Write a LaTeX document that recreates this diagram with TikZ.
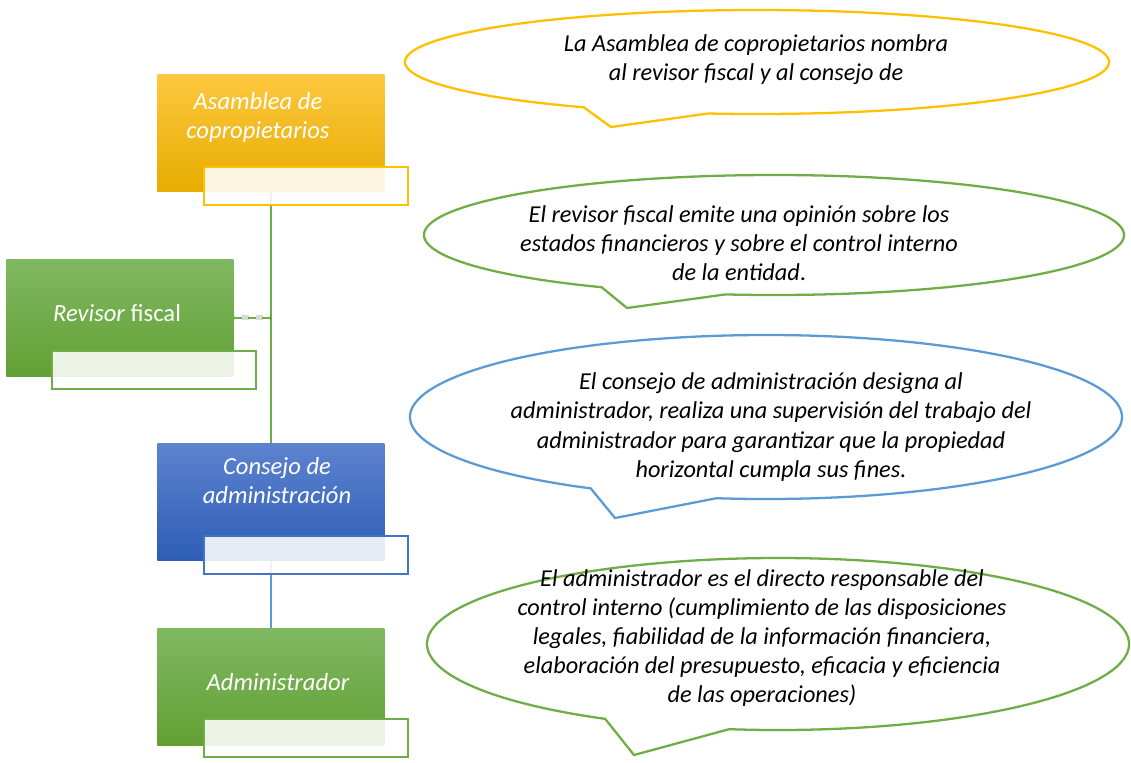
\documentclass[tikz,border=0pt]{standalone}
\usepackage{fontspec}
\setmainfont{Carlito}
\definecolor{amarillo}{RGB}{255,192,0}
\definecolor{verde}{RGB}{112,173,71}
\definecolor{azul}{RGB}{91,155,213}
\definecolor{azulcaja}{RGB}{68,114,196}
%% globo: color, centro x, centro y, radio x, radio y, punta
\newcommand{\globo}[6]{%
  \draw[globo, draw=#1] (#2,#3) ++(119.5:#4 and #5)
    arc[start angle=119.5, end angle=458, x radius=#4, y radius=#5] -- #6 -- cycle;}
\begin{document}
\begin{tikzpicture}[x=0.02cm, y=-0.02cm,
    caja/.style={rectangle, anchor=north west, inner sep=0pt, minimum width=4.54cm, minimum height=2.34cm},
    nota/.style={rectangle, anchor=north west, inner sep=0pt, minimum width=4.08cm, minimum height=0.76cm, fill=white, fill opacity=.88, line width=1pt},
    etiqueta/.style={text=white, align=center, font=\fontsize{14}{16.5}\selectfont\itshape},
    texto/.style={align=center, font=\fontsize{13.8}{16.6}\selectfont\itshape},
    globo/.style={line width=1.3pt, line join=miter}]
  \useasboundingbox (0,0) rectangle (1131,762);

  %% Las cajas del organigrama, con su degradado
  \node[caja, top color={rgb,255:red,253;green,200;blue,64}, middle color=amarillo, bottom color={rgb,255:red,230;green,172;blue,0}] (asamblea) at (157,74) {};
  \node[caja, top color={rgb,255:red,128;green,184;blue,98}, bottom color={rgb,255:red,98;green,160;blue,52}] (revisor) at (6,259) {};
  \node[caja, top color={rgb,255:red,93;green,131;blue,207}, bottom color={rgb,255:red,45;green,93;blue,181}] (consejo) at (157,443) {};
  \node[caja, top color={rgb,255:red,128;green,184;blue,98}, bottom color={rgb,255:red,98;green,160;blue,52}] (admin) at (157,628) {};

  %% Los textos de las cajas
  \node[etiqueta] (asambleaTexto) at (258,117) {Asamblea de\\copropietarios};
  \node[etiqueta, font=\fontsize{14}{16.5}\selectfont] (revisorTexto) at (117,313) {\textit{Revisor} fiscal};
  \node[etiqueta] (consejoTexto) at (277,481) {Consejo de\\administración};
  \node[etiqueta] (adminTexto) at (278,682) {Administrador};

  %% Las lineas que unen las cajas
  \draw[verde, line width=0.8pt] (asamblea.south) -- (consejo.north);
  \draw[black, opacity=.15, line width=3pt, dash pattern=on 4pt off 4pt, dash phase=-4.5pt, yshift=-2pt] (revisor.east) -- (revisor.east -| asamblea.south);
  \draw[verde, line width=1pt, dash pattern=on 4.5pt off 3.5pt] (revisor.east) -- (revisor.east -| asamblea.south);
  \draw[azul, line width=0.8pt] (consejo.south) -- (admin.north);

  %% Los recuadros claros encima de cada caja
  \node[nota, draw=amarillo] (asambleaNota) at (203,166) {};
  \node[nota, draw=verde] (revisorNota) at (51,350) {};
  \node[nota, draw=azulcaja] (consejoNota) at (203,535) {};
  \node[nota, draw=verde] (adminNota) at (203,718) {};

  %% Los globos de la derecha
  \globo{amarillo}{757}{62}{352}{52}{(611,127)}
  \globo{verde}{774}{235}{350}{60}{(627,308)}
  \globo{azul}{766}{417}{356}{82}{(615,518)}
  \globo{verde}{778}{644}{351}{86}{(634,755)}

  \node[texto] (globoAsamblea) at (756,60) {La Asamblea de copropietarios nombra\\al revisor fiscal y al consejo de};
  \node[texto] (globoRevisor) at (739,243) {El revisor fiscal emite una opinión sobre los\\estados financieros y sobre el control interno\\de la entidad\textup{.}};
  \node[texto] (globoConsejo) at (771,427) {El consejo de administración designa al\\administrador, realiza una supervisión del trabajo del\\administrador para garantizar que la propiedad\\horizontal cumpla sus fines.};
  \node[texto] (globoAdmin) at (762,638) {El administrador es el directo responsable del\\control interno (cumplimiento de las disposiciones\\legales, fiabilidad de la información financiera,\\elaboración del presupuesto, eficacia y eficiencia\\de las operaciones)};
\end{tikzpicture}
\end{document}
